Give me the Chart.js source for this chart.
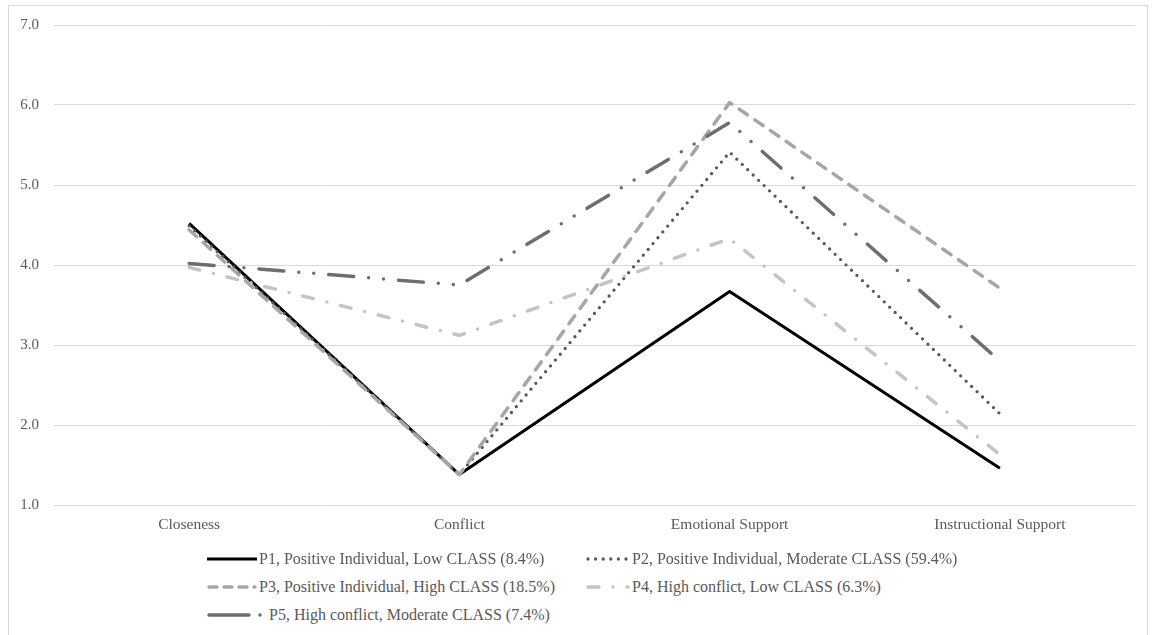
<!DOCTYPE html>
<html lang="en">
  <head>
    <meta charset="UTF-8" />
    <title>Profiles</title>
    <script src="https://cdn.jsdelivr.net/npm/chart.js"></script>
    <style>
      body {
        margin: 0;
        background: #ffffff;
        font-family: "Liberation Serif", "Times New Roman", Tinos, "DejaVu Serif", serif;
      }
      .frame {
        position: absolute;
        left: 8px;
        top: 5px;
        width: 1138px;
        height: 650px;
        border: 1px solid #d9d9d9;
      }
      .chart-box {
        position: absolute;
        left: 0;
        top: 0;
        width: 1155px;
        height: 560px;
      }
      .legend {
        position: absolute;
        left: 0;
        top: 0;
        color: #595959;
        font-size: 16px;
      }
      .legend-item {
        position: absolute;
        display: flex;
        align-items: center;
        height: 24px;
        white-space: nowrap;
      }
      .legend-item canvas {
        margin-right: 2px;
      }
    </style>
  </head>
  <body>
    <div class="frame"></div>
    <div class="chart-box">
      <canvas id="profileChart"></canvas>
    </div>
    <div class="legend" id="legend"></div>

    <script>
      const categories = [
        "Closeness",
        "Conflict",
        "Emotional Support",
        "Instructional Support",
      ];
      const seriesNames = [
        "P1, Positive Individual, Low CLASS (8.4%)",
        "P2, Positive Individual, Moderate CLASS (59.4%)",
        "P3, Positive Individual, High CLASS (18.5%)",
        "P4, High conflict, Low CLASS (6.3%)",
        "P5, High conflict, Moderate CLASS (7.4%)",
      ];
      const p1 = [4.52, 1.38, 3.67, 1.46];
      const p2 = [4.49, 1.38, 5.41, 2.14];
      const p3 = [4.44, 1.38, 6.03, 3.71];
      const p4 = [3.97, 3.12, 4.33, 1.63];
      const p5 = [4.02, 3.75, 5.78, 2.8];
      const yTicks = [1, 2, 3, 4, 5, 6, 7];

      const serif = "'Liberation Serif', 'Times New Roman', Tinos, 'DejaVu Serif', serif";

      // line looks, roughly the Excel styles
      const colors = ["#000000", "#595959", "#a6a6a6", "#c4c4c4", "#6e6e6e"];
      const widths = [3, 3.3, 3.5, 3.5, 3.5];
      const dashes = [[], [0, 7.6], [10, 9], [11, 14, 0, 14], [25, 15, 0, 15, 0, 15]];
      const legendDashes = [[], [0, 7.6], [8, 7], [11, 14, 0, 14], [40, 11, 0, 20]];

      const allSeries = [p1, p2, p3, p4, p5];

      const datasets = allSeries.map((values, i) => ({
        label: seriesNames[i],
        data: values,
        borderColor: colors[i],
        backgroundColor: colors[i],
        borderWidth: widths[i],
        borderDash: dashes[i],
        borderCapStyle: i === 0 ? "butt" : "round",
        borderJoinStyle: "round",
        pointRadius: 0,
        pointHoverRadius: 0,
        tension: 0,
        fill: false,
        order: allSeries.length - i,
      }));

      const chart = new Chart(document.getElementById("profileChart"), {
        type: "line",
        data: { labels: categories, datasets: datasets },
        options: {
          responsive: true,
          maintainAspectRatio: false,
          animation: false,
          layout: { padding: { top: 25, right: 20, bottom: 25, left: 0 } },
          plugins: {
            legend: { display: false },
            tooltip: { enabled: false },
          },
          scales: {
            x: {
              offset: true,
              grid: { display: false, drawTicks: false },
              border: { display: false },
              ticks: {
                color: "#595959",
                padding: 11,
                maxRotation: 0,
                font: { family: serif, size: 15.5 },
              },
              afterFit: (scale) => {
                scale.height = 30;
              },
            },
            y: {
              min: 1,
              max: 7,
              afterBuildTicks: (scale) => {
                scale.ticks = yTicks.map((v) => ({ value: v }));
              },
              grid: { color: "#d9d9d9", lineWidth: 1, drawTicks: false },
              border: { display: false },
              ticks: {
                color: "#595959",
                padding: 15,
                font: { family: serif, size: 15 },
                callback: (v) => Number(v).toFixed(1),
              },
              afterFit: (scale) => {
                scale.width = 54;
              },
            },
          },
        },
      });

      // legend in two columns like the original
      const legendEl = document.getElementById("legend");
      const colX = [207, 586];
      const rowY = [547, 575, 603];
      chart.data.datasets.forEach((ds, i) => {
        const item = document.createElement("div");
        item.className = "legend-item";
        item.style.left = colX[i % 2] + "px";
        item.style.top = rowY[Math.floor(i / 2)] + "px";
        const sw = i === 4 ? 60 : i % 2 === 1 ? 44 : 50;
        const c = document.createElement("canvas");
        c.width = sw;
        c.height = 10;
        const ctx = c.getContext("2d");
        ctx.strokeStyle = ds.borderColor;
        ctx.lineWidth = ds.borderWidth;
        ctx.lineCap = ds.borderCapStyle;
        ctx.setLineDash(legendDashes[i]);
        ctx.beginPath();
        const pad = ds.borderCapStyle === "round" ? 2 : 0;
        ctx.moveTo(pad, 5);
        ctx.lineTo(sw - pad, 5);
        ctx.stroke();
        item.appendChild(c);
        const txt = document.createElement("span");
        txt.textContent = ds.label;
        item.appendChild(txt);
        legendEl.appendChild(item);
      });
    </script>
  </body>
</html>
